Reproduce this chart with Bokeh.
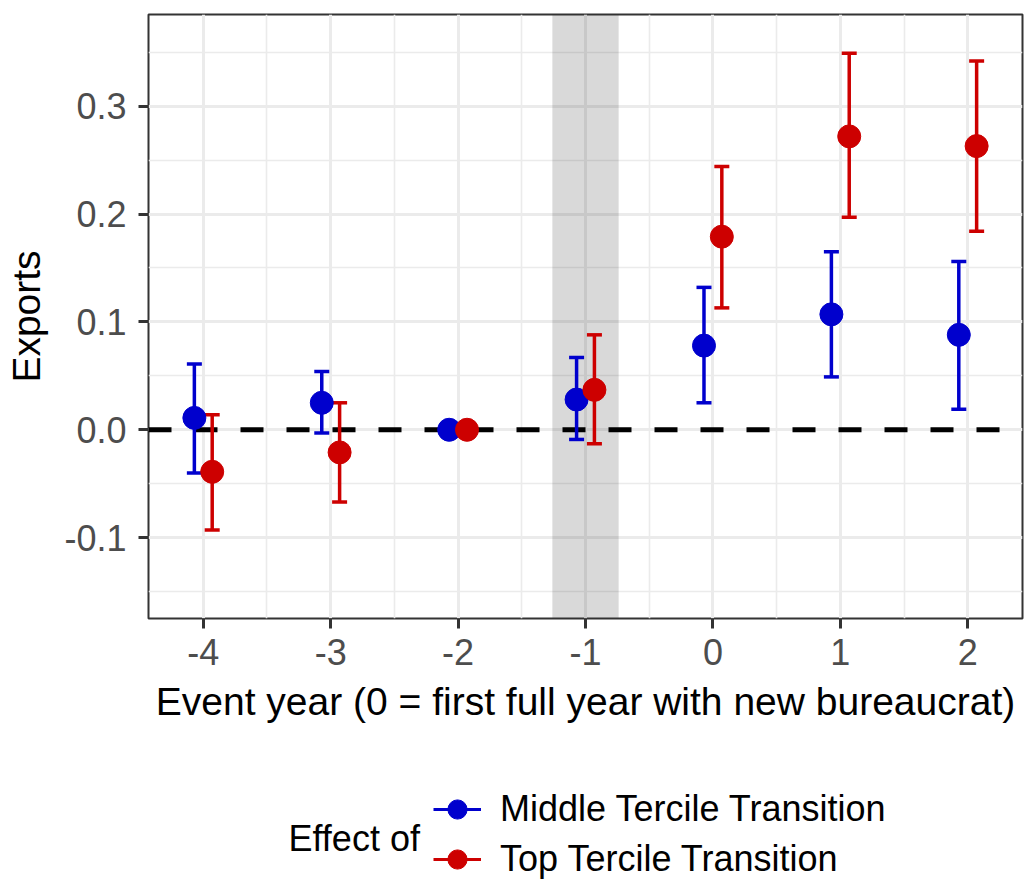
from bokeh.plotting import figure
from bokeh.layouts import column
from bokeh.models import (ColumnDataSource, FixedTicker, NumeralTickFormatter, Range1d,
                          BoxAnnotation, Span, Whisker, TeeHead, Legend, LegendItem, Label)
from bokeh.transform import dodge
from bokeh.embed import file_html
from bokeh.resources import INLINE

# Event-study estimates with 95% confidence bounds
event_years = [-4, -3, -2, -1, 0, 1, 2]

mid_est = [0.011, 0.025, 0.0, 0.028, 0.078, 0.107, 0.088]
mid_lo = [-0.040, -0.003, 0.0, -0.009, 0.025, 0.049, 0.019]
mid_hi = [0.061, 0.054, 0.0, 0.067, 0.132, 0.165, 0.156]

top_est = [-0.039, -0.021, 0.0, 0.037, 0.179, 0.272, 0.263]
top_lo = [-0.093, -0.067, 0.0, -0.013, 0.113, 0.197, 0.184]
top_hi = [0.014, 0.025, 0.0, 0.088, 0.244, 0.349, 0.342]

series_labels = ["Middle Tercile Transition", "Top Tercile Transition"]
legend_title = "Effect of"
x_title = "Event year (0 = first full year with new bureaucrat)"
y_title = "Exports"

y_ticks = [-0.1, 0.0, 0.1, 0.2, 0.3]
y_minor = [-0.15, -0.05, 0.05, 0.15, 0.25, 0.35]
x_minor = [-3.5, -2.5, -1.5, -0.5, 0.5, 1.5]

BLUE = "#0000CD"
RED = "#CD0000"
FONT = "Liberation Sans"
DODGE = 0.07
LEFT = 148

mid_src = ColumnDataSource(dict(year=event_years, est=mid_est, lo=mid_lo, hi=mid_hi))
top_src = ColumnDataSource(dict(year=event_years, est=top_est, lo=top_lo, hi=top_hi))

# ---- main panel ----
p = figure(width=1024, height=745, output_backend="svg", toolbar_location=None,
           x_range=Range1d(-4.43, 2.43), y_range=Range1d(-0.175, 0.385),
           min_border_left=LEFT, min_border_right=2, min_border_top=14, min_border_bottom=127,
           background_fill_color="white", border_fill_color="white")

p.outline_line_color = "#333333"
p.outline_line_width = 2

p.xaxis.ticker = FixedTicker(ticks=event_years, minor_ticks=x_minor)
p.yaxis.ticker = FixedTicker(ticks=y_ticks, minor_ticks=y_minor)
p.xaxis.formatter = NumeralTickFormatter(format="0")
p.yaxis.formatter = NumeralTickFormatter(format="0.0")
for g in (p.xgrid, p.ygrid):
    g.grid_line_color = "#EBEBEB"
    g.grid_line_width = 3
    g.minor_grid_line_color = "#EBEBEB"
    g.minor_grid_line_width = 1.6

for ax in (p.xaxis, p.yaxis):
    ax.axis_line_color = None
    ax.major_tick_line_color = "#333333"
    ax.major_tick_line_width = 3
    ax.major_tick_out = 10
    ax.major_tick_in = 0
    ax.minor_tick_out = 0
    ax.minor_tick_in = 0
    ax.major_label_text_font = FONT
    ax.major_label_text_font_size = "36px"
    ax.major_label_text_color = "#4D4D4D"
    ax.axis_label_text_font = FONT
    ax.axis_label_text_font_size = "39px"
    ax.axis_label_text_font_style = "normal"
    ax.axis_label_text_color = "black"
p.xaxis.axis_label = x_title
p.yaxis.axis_label = y_title
p.xaxis.major_label_standoff = 10
p.yaxis.major_label_standoff = 12
p.xaxis.axis_label_standoff = 12
p.yaxis.axis_label_standoff = 13

# shaded year before the transition
band = BoxAnnotation(left=-1.26, right=-0.74, fill_color="#333333", fill_alpha=0.19,
                     line_color=None, level="underlay")
p.add_layout(band)

# zero reference line
zero = Span(location=0, dimension="width", line_color="black", line_width=5,
            line_dash="23 23", level="underlay")
p.add_layout(zero)

# confidence intervals
for src, color, off in ((mid_src, BLUE, -DODGE), (top_src, RED, DODGE)):
    w = Whisker(source=src, base=dodge("year", off), lower="lo", upper="hi",
                line_color=color, line_width=3.5, level="underlay",
                lower_head=TeeHead(size=15, line_color=color, line_width=3.5),
                upper_head=TeeHead(size=15, line_color=color, line_width=3.5))
    p.add_layout(w)

# point estimates
p.scatter(x=dodge("year", -DODGE), y="est", source=mid_src, size=23,
          fill_color=BLUE, line_color=BLUE)
p.scatter(x=dodge("year", DODGE), y="est", source=top_src, size=23,
          fill_color=RED, line_color=RED)

# ---- legend strip (its range lies away from the data, so only the keys show) ----
leg = figure(width=1024, height=134, output_backend="svg", toolbar_location=None,
             x_range=Range1d(100, 101), y_range=Range1d(100, 101),
             x_axis_location=None, y_axis_location=None,
             min_border_left=LEFT, min_border_right=2, min_border_top=0, min_border_bottom=0,
             background_fill_color="white", border_fill_color="white")
leg.outline_line_color = None
leg.grid.visible = False

items = []
for label, color, src in zip(series_labels, (BLUE, RED), (mid_src, top_src)):
    seg = leg.segment(x0="year", y0="lo", x1="year", y1="hi", source=src,
                      line_color=color, line_width=3)
    dot = leg.scatter(x="year", y="est", source=src, size=20,
                      fill_color=color, line_color=color)
    items.append(LegendItem(label=label, renderers=[seg, dot]))

legend = Legend(items=items, location=(433 - LEFT, -5), orientation="vertical",
                glyph_width=48, glyph_height=50, label_height=50, spacing=0,
                label_standoff=19, padding=0, margin=0,
                border_line_color=None, background_fill_alpha=0,
                label_text_font=FONT, label_text_font_size="36px",
                label_text_color="black")
leg.add_layout(legend, "center")

leg.add_layout(Label(x=288 - LEFT, y=41, x_units="screen", y_units="screen", text=legend_title,
                     text_font=FONT, text_font_size="36px", text_color="black",
                     text_baseline="middle", text_align="left"))

layout = column(p, leg, spacing=0)
open("out.html", "w").write(file_html(layout, INLINE))
